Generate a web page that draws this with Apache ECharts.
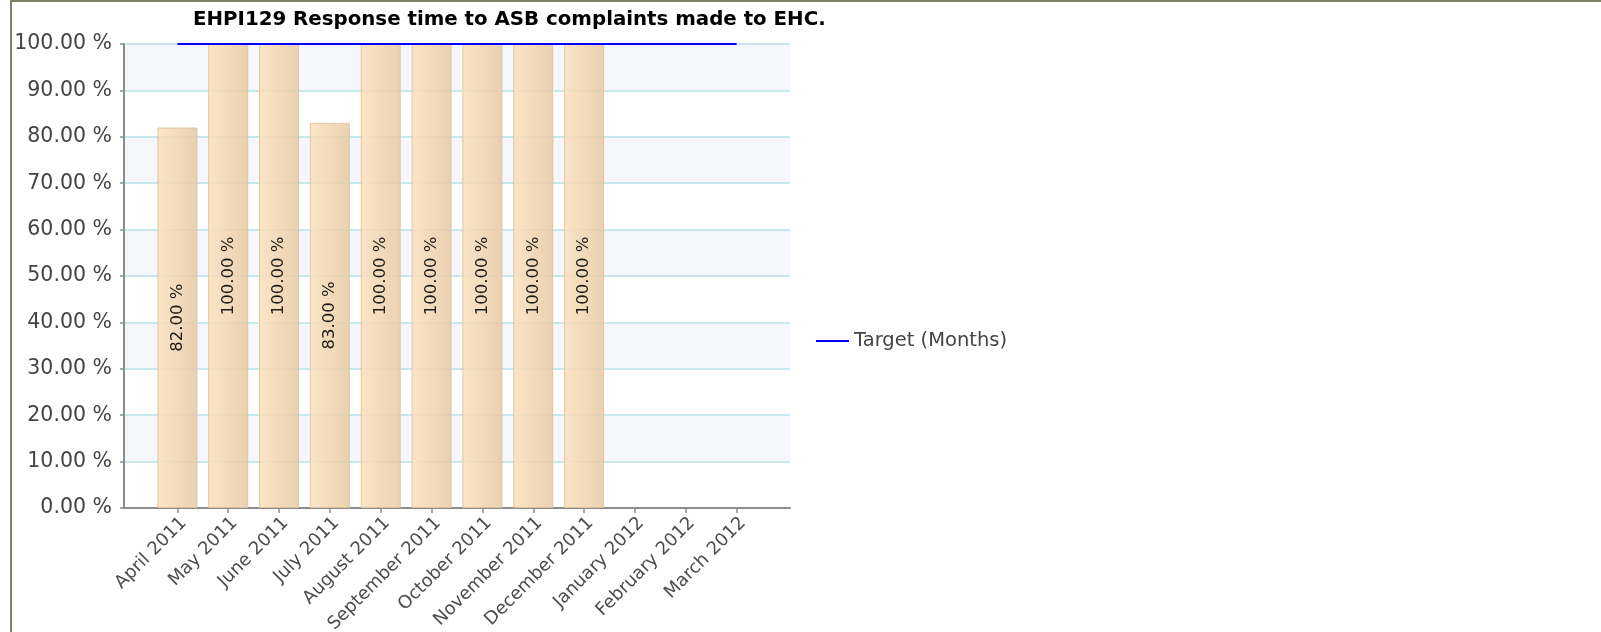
<!DOCTYPE html>
<html>
<head>
<meta charset="utf-8">
<script src="https://cdn.jsdelivr.net/npm/echarts@6/dist/echarts.min.js"></script>
<style>
  html, body { margin: 0; padding: 0; background: #fff; }
  #chart { position: absolute; left: 0; top: 0; width: 1601px; height: 632px; }
  #frame {
    position: absolute; left: 10px; top: 0; right: 0; bottom: 0;
    border-left: 2px solid #808068; border-top: 2px solid #808068;
    pointer-events: none;
  }
</style>
</head>
<body>
<div id="chart"></div>
<div id="frame"></div>
<script>
const months = ['April 2011', 'May 2011', 'June 2011', 'July 2011', 'August 2011', 'September 2011',
  'October 2011', 'November 2011', 'December 2011', 'January 2012', 'February 2012', 'March 2012']
const actual = [82, 100, 100, 83, 100, 100, 100, 100, 100]
const target = [100, 100, 100, 100, 100, 100, 100, 100, 100, 100, 100, 100]
const yTicks = [0, 10, 20, 30, 40, 50, 60, 70, 80, 90, 100]

const font = 'DejaVu Sans'
const idx = months.map((m, i) => i)

const chart = echarts.init(document.getElementById('chart'))
chart.setOption({
  animation: false,
  title: {
    text: 'EHPI129 Response time to ASB complaints made to EHC.',
    left: 188,
    top: 5,
    textStyle: { fontFamily: font, fontSize: 19.8, fontWeight: 'bold', color: '#000' }
  },
  legend: {
    data: ['Target (Months)'],
    left: 816,
    top: 331,
    padding: 0,
    icon: 'rect',
    itemWidth: 33,
    itemHeight: 2,
    itemGap: 7,
    textStyle: { fontFamily: font, fontSize: 19.5, color: '#444' }
  },
  grid: { left: 124, top: 44, right: 811, bottom: 124, containLabel: false, outerBoundsMode: 'none' },
  xAxis: {
    type: 'value',
    min: -1.05,
    max: 12.05,
    axisLine: { lineStyle: { color: '#8c8c8c', width: 2 } },
    axisTick: { customValues: idx, length: 5, lineStyle: { color: '#8c8c8c', width: 1.5 } },
    axisLabel: {
      customValues: idx,
      rotate: 45,
      margin: 6,
      verticalAlign: 'top',
      formatter: v => months[v],
      fontFamily: font,
      fontSize: 18,
      color: '#4d4d4d'
    },
    splitLine: { show: false }
  },
  yAxis: {
    type: 'value',
    min: 0,
    max: 100,
    interval: 10,
    axisLine: { show: true, onZero: false, lineStyle: { color: '#8c8c8c', width: 2 } },
    axisTick: { show: true, length: 4, lineStyle: { color: '#8c8c8c', width: 1.5 } },
    axisLabel: {
      customValues: yTicks,
      formatter: v => v.toFixed(2) + ' %',
      fontFamily: font,
      fontSize: 20.5,
      color: '#444',
      margin: 12
    },
    splitLine: { lineStyle: { color: '#b4e2e8', width: 1.5 } },
    splitArea: { show: true, areaStyle: { color: ['#ffffff', '#f6f7fd'] } }
  },
  series: [
    {
      name: 'Actual',
      type: 'bar',
      data: actual.map((v, i) => [i, v]),
      barWidth: 40,
      itemStyle: {
        color: new echarts.graphic.LinearGradient(0, 0, 1, 0, [
          { offset: 0, color: '#fce2be' },
          { offset: 1, color: '#e6caa6' }
        ]),
        borderColor: '#dfc199',
        borderWidth: 1,
        opacity: 0.88
      },
      label: {
        show: true,
        position: 'inside',
        rotate: 90,
        formatter: p => p.value[1].toFixed(2) + ' %',
        fontFamily: font,
        fontSize: 16.5,
        color: '#000'
      }
    },
    {
      name: 'Target (Months)',
      type: 'line',
      data: target.map((v, i) => [i, v]),
      symbol: 'none',
      lineStyle: { color: '#0000ff', width: 2 },
      itemStyle: { color: '#0000ff' },
      z: 5
    }
  ]
})
</script>
</body>
</html>
